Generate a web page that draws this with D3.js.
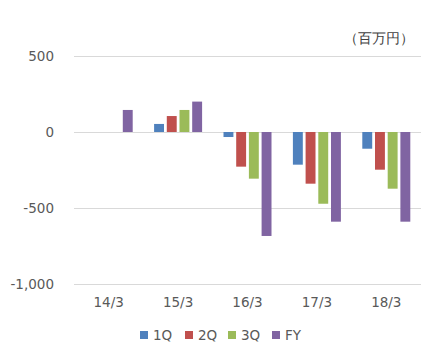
<!DOCTYPE html>
<html>
<head>
<meta charset="utf-8">
<title>D3</title>
<script src="https://d3js.org/d3.v7.min.js"></script>
<style>
  body { margin: 0; background: #fff; }
  text { font-family: "DejaVu Sans", Verdana, sans-serif; }
</style>
</head>
<body>
<svg id="svg" width="437" height="361"></svg>
<script>
// data
var categories = ["14/3", "15/3", "16/3", "17/3", "18/3"];
var series = ["1Q", "2Q", "3Q", "FY"];
var colors = ["#4F81BD", "#C0504D", "#9BBB59", "#8064A2"];
var q1 = [null, 53, -33, -215, -110];
var q2 = [null, 105, -228, -340, -248];
var q3 = [null, 145, -307, -472, -373];
var fy = [145, 200, -684, -590, -590];
var yTicks = [-1000, -500, 0, 500];
var unitLabel = "（百万円）";

function draw() {
  var svg = d3.select("#svg");
  var values = [q1, q2, q3, fy];

  var x = d3.scaleBand().domain(categories).range([74, 421]);
  var x1 = d3.scaleBand().domain(series).range([-24, 24]).paddingInner(0.22);
  var y = d3.scaleLinear().domain([-1000, 500]).range([284, 56]);

  var fmt = function(d) { return d3.format(",")(d).replace("\u2212", "-"); };

  // gridlines
  svg.append("g").selectAll("line").data(yTicks).join("line")
    .attr("x1", x.range()[0]).attr("x2", x.range()[1])
    .attr("y1", function(d) { return y(d) + 0.5; })
    .attr("y2", function(d) { return y(d) + 0.5; })
    .attr("stroke", "#d9d9d9").attr("stroke-width", 1);

  // y labels
  svg.append("g").selectAll("text").data(yTicks).join("text")
    .attr("x", 54).attr("y", function(d) { return y(d); })
    .attr("dy", "0.35em").attr("text-anchor", "end")
    .attr("font-size", "13.5px").attr("fill", "#595959")
    .text(fmt);

  // bars
  series.forEach(function(s, i) {
    var rows = categories.map(function(c, j) { return { c: c, v: values[i][j] }; })
      .filter(function(r) { return r.v !== null; });
    svg.append("g").selectAll("rect").data(rows).join("rect")
      .attr("x", function(r) { return x(r.c) + x.bandwidth() / 2 + x1(s); })
      .attr("width", x1.bandwidth())
      .attr("y", function(r) { return Math.min(y(r.v), y(0)); })
      .attr("height", function(r) { return Math.abs(y(r.v) - y(0)); })
      .attr("fill", colors[i]);
  });

  // x labels
  svg.append("g").selectAll("text").data(categories).join("text")
    .attr("x", function(c) { return x(c) + x.bandwidth() / 2; })
    .attr("y", 307).attr("text-anchor", "middle")
    .attr("font-size", "13.5px").attr("fill", "#595959")
    .text(function(c) { return c; });

  // unit
  svg.append("text").attr("x", 414).attr("y", 43).attr("text-anchor", "end")
    .attr("font-family", "Noto Sans CJK JP").attr("font-size", "14px").attr("fill", "#404040")
    .text(unitLabel);

  // legend
  var legX = [140, 185, 228, 272];
  var leg = svg.append("g").selectAll("g").data(series).join("g")
    .attr("transform", function(d, i) { return "translate(" + legX[i] + ",331)"; });
  leg.append("rect").attr("width", 8).attr("height", 8)
    .attr("fill", function(d, i) { return colors[i]; });
  leg.append("text").attr("x", 13).attr("y", 4).attr("dy", "0.35em")
    .attr("font-size", "13.5px").attr("fill", "#595959")
    .text(function(d) { return d; });
}
draw();
</script>
</body>
</html>
